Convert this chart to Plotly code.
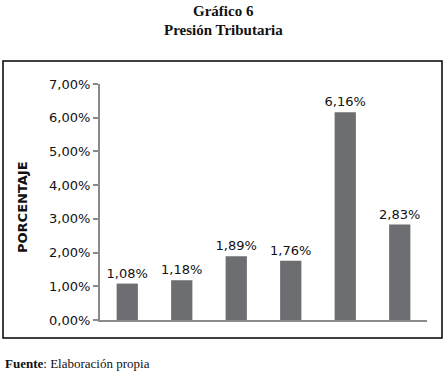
import plotly.graph_objects as go

categories = ["A", "B", "C", "D", "E", "F"]
values = [0.0108, 0.0118, 0.0189, 0.0176, 0.0616, 0.0283]
y_ticks = [0, 0.01, 0.02, 0.03, 0.04, 0.05, 0.06, 0.07]

W, H = 447, 373
L, R, T, B = 100, 20, 84, 53
pw, ph = W - L - R, H - T - B


def px(x):
    return (x - L) / pw


def py(y):
    return (H - B - y) / ph


fig = go.Figure(go.Bar(
    x=categories, y=values,
    marker=dict(color="#6d6e72", line=dict(width=0)),
    texttemplate="%{y:.2%}", textposition="outside", constraintext="none",
    textfont=dict(family="DejaVu Sans", size=13, color="#111"),
    cliponaxis=False, width=0.39, hoverinfo="skip",
))

fig.update_layout(
    width=W, height=H, margin=dict(l=L, r=R, t=T, b=B),
    paper_bgcolor="white", plot_bgcolor="white",
    separators=",.", showlegend=False,
    xaxis=dict(showticklabels=False, showgrid=False, zeroline=False,
               showline=True, linecolor="#8a8a8a", linewidth=2, ticks=""),
    yaxis=dict(range=[0, 0.07], tickvals=y_ticks, tickformat=".2%",
               showgrid=False, zeroline=False, showline=True,
               linecolor="#8a8a8a", linewidth=2, ticks="outside",
               ticklen=5, tickwidth=1.5, tickcolor="#8a8a8a",
               tickfont=dict(family="DejaVu Sans", size=13, color="#111")),
    shapes=[dict(type="rect", xref="paper", yref="paper",
                 x0=px(3), x1=px(442), y0=py(338), y1=py(61),
                 line=dict(color="black", width=1.5), layer="below")],
    annotations=[
        dict(text="<b>Gráfico 6</b>", xref="paper", yref="paper",
             x=px(223), y=py(11), xanchor="center", yanchor="middle",
             showarrow=False,
             font=dict(family="Liberation Serif", size=15, color="#111")),
        dict(text="<b>Presión Tributaria</b>", xref="paper", yref="paper",
             x=px(223), y=py(30), xanchor="center", yanchor="middle",
             showarrow=False,
             font=dict(family="Liberation Serif", size=15, color="#111")),
        dict(text="<b>PORCENTAJE</b>", xref="paper", yref="paper",
             x=px(22), y=py(207), xanchor="center", yanchor="middle",
             showarrow=False, textangle=-90,
             font=dict(family="DejaVu Sans", size=13, color="#111")),
        dict(text="<b>Fuente</b>: Elaboración propia", xref="paper", yref="paper",
             x=px(3), y=py(363), xanchor="left", yanchor="middle",
             showarrow=False,
             font=dict(family="Liberation Serif", size=13, color="#111")),
    ],
)

fig.write_html(
    "out.html",
    config={"displayModeBar": False},
    post_script="document.body.style.margin='0';document.body.style.overflow='hidden';",
)
